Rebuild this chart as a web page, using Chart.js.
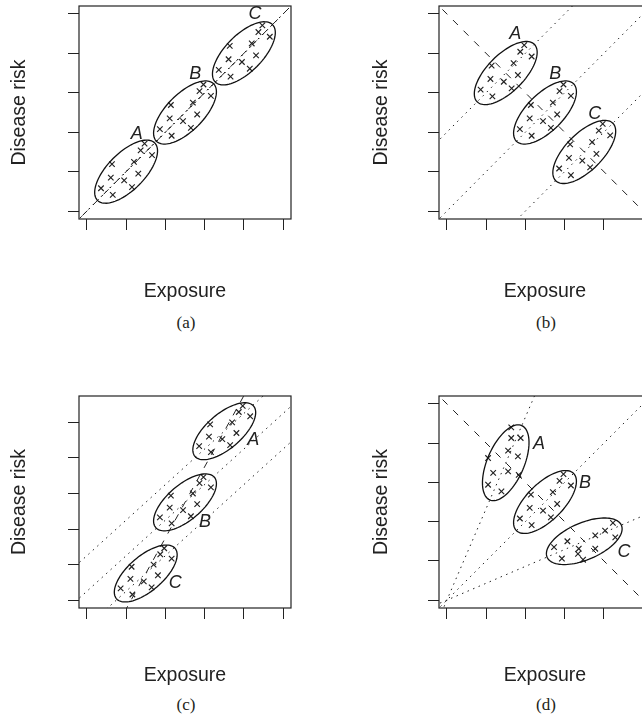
<!DOCTYPE html>
<html>
<head>
<meta charset="utf-8">
<script src="https://cdn.jsdelivr.net/npm/chart.js@4.4.0/dist/chart.umd.min.js"></script>
<style>
  body { margin: 0; width: 642px; height: 725px; overflow: hidden; background: #fff; position: relative; }
  canvas { position: absolute; }
  .cap { position: absolute; width: 60px; margin-left: -30px; text-align: center;
         font: 17px "Liberation Serif", "Times New Roman", serif; color: #231f20; line-height: 20px; }
</style>
</head>
<body>
<canvas id="panelA" width="300" height="303" style="left:0;top:0"></canvas>
<canvas id="panelB" width="300" height="303" style="left:362px;top:0"></canvas>
<canvas id="panelC" width="300" height="297" style="left:0;top:390px"></canvas>
<canvas id="panelD" width="300" height="297" style="left:362px;top:390px"></canvas>
<div class="cap" style="left:186px;top:313px">(a)</div>
<div class="cap" style="left:546px;top:313px">(b)</div>
<div class="cap" style="left:186px;top:695px">(c)</div>
<div class="cap" style="left:546px;top:695px">(d)</div>
<script>
// Tick marks (no labels on the axes)
const tickValues = [1, 2, 3, 4, 5, 6];
const groupNames = ['A', 'B', 'C'];

// Panel (a): groups lie on the same line
const aExposure = [
  [2.47, 2.37, 2.66, 2.20, 1.64, 2.31, 1.61, 1.95, 2.15, 1.36, 1.66],
  [3.97, 3.87, 4.16, 3.70, 3.14, 3.81, 3.11, 3.45, 3.65, 2.86, 3.16],
  [5.47, 5.37, 5.66, 5.20, 4.64, 5.31, 4.61, 4.95, 5.15, 4.36, 4.66]
];
const aRisk = [
  [2.71, 2.54, 2.42, 2.25, 2.19, 1.95, 1.85, 1.78, 1.61, 1.58, 1.41],
  [4.21, 4.04, 3.92, 3.75, 3.69, 3.45, 3.35, 3.28, 3.11, 3.08, 2.91],
  [5.71, 5.54, 5.42, 5.25, 5.19, 4.95, 4.85, 4.78, 4.61, 4.58, 4.41]
];
const aCentreX = [2, 3.5, 5];
const aCentreY = [2, 3.5, 5];
const aWithinSlope = [1, 1, 1];
const aWithinIcpt = [0, 0, 0];
const aOverall = [1, 0];          // slope, intercept
const aLabelX = [2.27, 3.76, 5.28];
const aLabelY = [2.95, 4.48, 6.0];

// Panel (b): positive within groups, negative between groups
const bExposure = [
  [2.97, 2.87, 3.16, 2.70, 2.14, 2.81, 2.11, 2.45, 2.65, 1.86, 2.16],
  [3.97, 3.87, 4.16, 3.70, 3.14, 3.81, 3.11, 3.45, 3.65, 2.86, 3.16],
  [4.97, 4.87, 5.16, 4.70, 4.14, 4.81, 4.11, 4.45, 4.65, 3.86, 4.16]
];
const bRisk = [
  [5.21, 5.04, 4.92, 4.75, 4.69, 4.45, 4.35, 4.28, 4.11, 4.08, 3.91],
  [4.21, 4.04, 3.92, 3.75, 3.69, 3.45, 3.35, 3.28, 3.11, 3.08, 2.91],
  [3.21, 3.04, 2.92, 2.75, 2.69, 2.45, 2.35, 2.28, 2.11, 2.08, 1.91]
];
const bCentreX = [2.5, 3.5, 4.5];
const bCentreY = [4.5, 3.5, 2.5];
const bWithinSlope = [1, 1, 1];
const bWithinIcpt = [2, 0, -2];
const bOverall = [-1, 7];
const bLabelX = [2.74, 3.76, 4.77];
const bLabelY = [5.50, 4.48, 3.46];

// Panel (c): between-group slope steeper than within
const cExposure = [
  [4.97, 4.87, 5.16, 4.70, 4.14, 4.81, 4.11, 4.45, 4.65, 3.86, 4.16],
  [3.97, 3.87, 4.16, 3.70, 3.14, 3.81, 3.11, 3.45, 3.65, 2.86, 3.16],
  [2.97, 2.87, 3.16, 2.70, 2.14, 2.81, 2.11, 2.45, 2.65, 1.86, 2.16]
];
const cRisk = [
  [6.46, 6.29, 6.17, 6.00, 5.94, 5.70, 5.60, 5.53, 5.36, 5.33, 5.16],
  [4.46, 4.29, 4.17, 4.00, 3.94, 3.70, 3.60, 3.53, 3.36, 3.33, 3.16],
  [2.46, 2.29, 2.17, 2.00, 1.94, 1.70, 1.60, 1.53, 1.36, 1.33, 1.16]
];
const cCentreX = [4.5, 3.5, 2.5];
const cCentreY = [5.75, 3.75, 1.75];
const cWithinSlope = [1, 1, 1];
const cWithinIcpt = [1.25, 0.25, -0.75];
const cOverall = [2, -3.25];
const cLabelX = [5.24, 4.01, 3.25];
const cLabelY = [5.50, 3.21, 1.49];

// Panel (d): within-group slopes differ
const dExposure = [
  [2.64, 2.64, 2.88, 2.56, 2.81, 2.05, 2.56, 2.18, 2.83, 2.05, 2.39],
  [3.97, 3.87, 4.16, 3.70, 3.14, 3.81, 3.11, 3.45, 3.65, 2.86, 3.16],
  [5.23, 5.03, 4.78, 5.29, 4.07, 4.36, 4.78, 3.73, 3.93, 4.47, 4.34]
];
const dRisk = [
  [5.40, 5.13, 5.13, 4.81, 4.66, 4.62, 4.28, 4.24, 4.19, 3.94, 3.77],
  [4.21, 4.04, 3.92, 3.75, 3.69, 3.45, 3.35, 3.28, 3.11, 3.08, 2.91],
  [2.97, 2.77, 2.65, 2.60, 2.50, 2.31, 2.31, 2.35, 2.06, 2.03, 2.18]
];
const dCentreX = [2.5, 3.5, 4.5];
const dCentreY = [4.5, 3.5, 2.5];
const dWithinSlope = [2.33, 1, 0.43];
const dWithinIcpt = [-1.33, 0, 0.57];
const dOverall = [-1, 7];
const dLabelX = [3.35, 4.52, 5.51];
const dLabelY = [4.97, 3.98, 2.22];

const INK = '#222';
const SANS = '"Liberation Sans", Arial, Helvetica, sans-serif';

// ellipses, group letters and the box, drawn through the chart's scales
const shapesPlugin = {
  id: 'shapes',
  afterDatasetsDraw(chart, args, opts) {
    const { ctx, chartArea: area, scales: { x, y } } = chart;
    ctx.save();
    ctx.strokeStyle = '#111';
    ctx.lineWidth = 1.3;
    opts.cx.forEach((cx, i) => {
      const ang = Math.atan(opts.slope[i]);
      ctx.beginPath();
      for (let k = 0; k <= 96; k++) {
        const t = k / 96 * Math.PI * 2;
        const u = 1.03 * Math.cos(t), v = 0.47 * Math.sin(t);
        const px = x.getPixelForValue(cx + u * Math.cos(ang) - v * Math.sin(ang));
        const py = y.getPixelForValue(opts.cy[i] + u * Math.sin(ang) + v * Math.cos(ang));
        if (k === 0) ctx.moveTo(px, py); else ctx.lineTo(px, py);
      }
      ctx.closePath();
      ctx.stroke();
    });

    ctx.fillStyle = INK;
    ctx.font = 'italic 18px ' + SANS;
    ctx.textAlign = 'center';
    ctx.textBaseline = 'middle';
    groupNames.forEach((g, i) => {
      ctx.fillText(g, x.getPixelForValue(opts.lx[i]), y.getPixelForValue(opts.ly[i]));
    });

    ctx.strokeStyle = INK;
    ctx.lineWidth = 1.2;
    ctx.strokeRect(area.left, area.top, area.right - area.left, area.bottom - area.top);
    ctx.restore();
  }
};

function lineSet(slope, icpt, dash) {
  return {
    type: 'line',
    data: [{ x: -1, y: icpt - slope }, { x: 8, y: icpt + 8 * slope }],
    borderColor: INK,
    borderWidth: 1,
    borderDash: dash,
    pointRadius: 0,
    fill: false,
    tension: 0
  };
}

function axis(min, max, size, titleText, horizontal) {
  return {
    type: 'linear',
    min: min,
    max: max,
    afterBuildTicks: s => { s.ticks = tickValues.map(v => ({ value: v })); },
    afterFit: s => { if (horizontal) s.height = size; else s.width = size; },
    ticks: { display: false },
    grid: { drawOnChartArea: false, tickLength: 11, color: INK, lineWidth: 1 },
    border: { display: false },
    title: {
      display: true,
      text: titleText,
      color: INK,
      font: { family: SANS, size: 19.5 },
      padding: { top: 8, bottom: 0 }
    }
  };
}

function drawPanel(id, p) {
  const datasets = [];
  groupNames.forEach((g, i) => {
    datasets.push({
      label: g,
      data: p.xs[i].map((v, j) => ({ x: v, y: p.ys[i][j] })),
      pointStyle: 'crossRot',
      pointRadius: 3.9,
      pointBorderWidth: 1.15,
      borderColor: '#222',
      backgroundColor: '#222'
    });
  });
  p.ws.forEach((s, i) => datasets.push(lineSet(s, p.wi[i], [1.5, 4.5])));
  datasets.push(lineSet(p.overall[0], p.overall[1], [7, 8]));

  new Chart(document.getElementById(id), {
    type: 'scatter',
    data: { datasets },
    options: {
      responsive: false,
      animation: false,
      devicePixelRatio: 1,
      layout: { padding: { top: 6, right: p.right, bottom: 0, left: 0 } },
      scales: {
        x: axis(0.8, 6.2, p.xh, 'Exposure', true),
        y: axis(p.ymin, p.ymax, p.yw, 'Disease risk', false)
      },
      plugins: {
        legend: { display: false },
        tooltip: { enabled: false },
        shapes: { cx: p.cx, cy: p.cy, slope: p.ws, lx: p.lx, ly: p.ly }
      }
    },
    plugins: [shapesPlugin]
  });
}

drawPanel('panelA', { xs: aExposure, ys: aRisk, cx: aCentreX, cy: aCentreY, ws: aWithinSlope, wi: aWithinIcpt,
  overall: aOverall, lx: aLabelX, ly: aLabelY, ymin: 0.8, ymax: 6.2, yw: 79, xh: 84, right: 9 });
drawPanel('panelB', { xs: bExposure, ys: bRisk, cx: bCentreX, cy: bCentreY, ws: bWithinSlope, wi: bWithinIcpt,
  overall: bOverall, lx: bLabelX, ly: bLabelY, ymin: 0.8, ymax: 6.2, yw: 77, xh: 84, right: 11 });
drawPanel('panelC', { xs: cExposure, ys: cRisk, cx: cCentreX, cy: cCentreY, ws: cWithinSlope, wi: cWithinIcpt,
  overall: cOverall, lx: cLabelX, ly: cLabelY, ymin: 0.78, ymax: 6.74, yw: 79, xh: 79, right: 9 });
drawPanel('panelD', { xs: dExposure, ys: dRisk, cx: dCentreX, cy: dCentreY, ws: dWithinSlope, wi: dWithinIcpt,
  overall: dOverall, lx: dLabelX, ly: dLabelY, ymin: 0.8, ymax: 6.2, yw: 77, xh: 79, right: 11 });
</script>
</body>
</html>
